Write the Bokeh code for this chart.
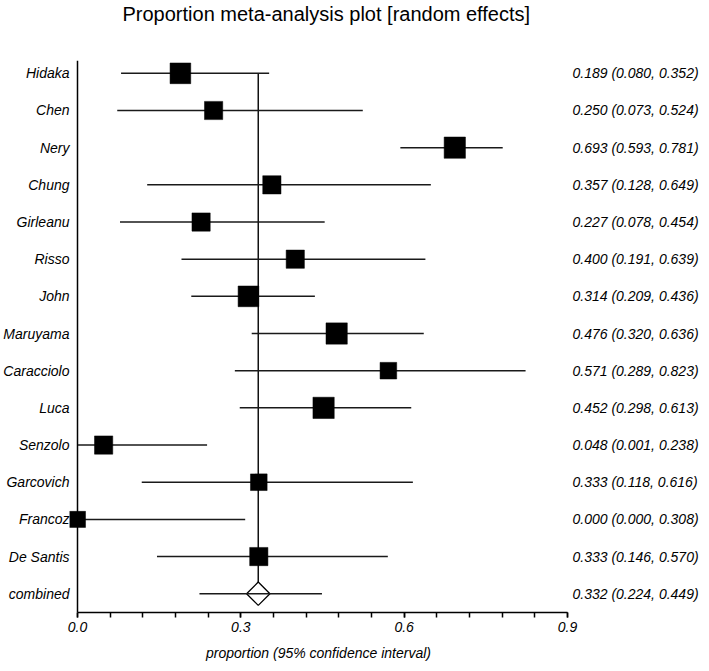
import numpy as np
from bokeh.plotting import figure
from bokeh.models import Range1d, FixedTicker, LinearAxis, Span, NumeralTickFormatter, ColumnDataSource, Title
from bokeh.embed import file_html
from bokeh.resources import INLINE

# ---------------- data ----------------
studies = ["Hidaka", "Chen", "Nery", "Chung", "Girleanu", "Risso", "John", "Maruyama",
           "Caracciolo", "Luca", "Senzolo", "Garcovich", "Francoz", "De Santis"]
proportion = [0.189, 0.250, 0.693, 0.357, 0.227, 0.400, 0.314, 0.476, 0.571, 0.452, 0.048, 0.333, 0.000, 0.333]
ci_low = [0.080, 0.073, 0.593, 0.128, 0.078, 0.191, 0.209, 0.320, 0.289, 0.298, 0.001, 0.118, 0.000, 0.146]
ci_high = [0.352, 0.524, 0.781, 0.649, 0.454, 0.639, 0.436, 0.636, 0.823, 0.613, 0.238, 0.616, 0.308, 0.570]
weight_pct = [8.5, 6.6, 9.0, 6.6, 6.6, 6.6, 8.5, 9.0, 5.5, 9.0, 6.6, 5.5, 5.1, 6.6]

pooled_label = "combined"
pooled = 0.332
pooled_low = 0.224
pooled_high = 0.449

x_ticks = [0.0, 0.3, 0.6, 0.9]
title_text = "Proportion meta-analysis plot [random effects]"
x_label = "proportion (95% confidence interval)"

# ---------------- layout ----------------
W, H = 701, 663
FL, FR, FT, FB = 69, 567, 58, 613      # frame edges in figure px
left_pad_px = 8
px_per_unit = (FR - FL - left_pad_px) / x_ticks[-1]
x_start = -left_pad_px / px_per_unit

n = len(studies)
y_lo, y_hi = -0.505, n + 0.345

rows = [n - i for i in range(n)]       # 14 .. 1
pooled_row = 0
all_rows = rows + [pooled_row]
all_names = studies + [pooled_label]
all_text = [f"{p:.3f} ({l:.3f}, {h:.3f})" for p, l, h in
            zip(proportion + [pooled], ci_low + [pooled_low], ci_high + [pooled_high])]

FONT = "Liberation Sans"

p = figure(width=W, height=H, output_backend="svg", toolbar_location=None, title=None,
           x_range=Range1d(x_start, x_ticks[-1]), y_range=Range1d(y_lo, y_hi),
           min_border_left=FL, min_border_right=W - FR, min_border_top=FT, min_border_bottom=H - FB)
p.outline_line_color = None
p.xgrid.visible = False
p.ygrid.visible = False

# invisible spacer (closest to the frame), then the real title on top of it
p.add_layout(Title(text=".", text_font=FONT, text_font_size="14px", text_color="white",
                   standoff=24), "above")
p.add_layout(Title(text=title_text, text_font=FONT, text_font_size="20px", text_font_style="normal",
                   text_color="black", align="left", offset=53, standoff=0), "above")

# x axis
xa = p.xaxis[0]
xa.ticker = FixedTicker(ticks=x_ticks, minor_ticks=[round(0.06 * k, 2) for k in range(16)])
xa.bounds = (x_ticks[0], x_ticks[-1])
xa.formatter = NumeralTickFormatter(format="0.0")
xa.axis_line_width = 1.5
xa.axis_line_color = "black"
xa.major_tick_line_width = 1.5
xa.minor_tick_line_width = 1.5
xa.major_tick_line_color = "black"
xa.minor_tick_line_color = "black"
xa.major_tick_out = 5
xa.major_tick_in = 0
xa.minor_tick_out = 5
xa.minor_tick_in = 0
xa.major_label_text_font = FONT
xa.major_label_text_font_size = "14px"
xa.major_label_text_font_style = "italic"
xa.major_label_text_color = "black"
xa.major_label_standoff = 4
xa.axis_label = x_label
xa.axis_label_text_font = FONT
xa.axis_label_text_font_size = "14px"
xa.axis_label_text_font_style = "italic"
xa.axis_label_text_color = "black"
xa.axis_label_standoff = 10

# left axis: study names
ya = p.yaxis[0]
ya.ticker = FixedTicker(ticks=all_rows)
ya.major_label_overrides = {r: s for r, s in zip(all_rows, all_names)}
ya.axis_line_color = None
ya.major_tick_line_color = None
ya.minor_tick_line_color = None
ya.major_tick_out = 0
ya.major_tick_in = 0
ya.major_label_standoff = 0
ya.major_label_text_font = FONT
ya.major_label_text_font_size = "14px"
ya.major_label_text_font_style = "italic"
ya.major_label_text_color = "black"

# right axis: estimates with CI
ra = LinearAxis(ticker=FixedTicker(ticks=all_rows),
                major_label_overrides={r: t for r, t in zip(all_rows, all_text)})
ra.axis_line_color = None
ra.major_tick_line_color = None
ra.minor_tick_line_color = None
ra.major_tick_out = 0
ra.major_tick_in = 0
ra.major_label_standoff = 5
ra.major_label_text_font = FONT
ra.major_label_text_font_size = "14px"
ra.major_label_text_font_style = "italic"
ra.major_label_text_color = "black"
p.add_layout(ra, "right")

# vertical line at x = 0
p.add_layout(Span(location=0, dimension="height", line_color="black", line_width=1.5))

# pooled vertical reference line
p.segment(x0=[pooled], y0=[rows[0]], x1=[pooled], y1=[pooled_row], line_color="#111111", line_width=1.5)

src = ColumnDataSource(dict(y=rows, p=proportion, lo=ci_low, hi=ci_high,
                            size=[7.1 * np.sqrt(w) for w in weight_pct]))
p.segment(x0="lo", y0="y", x1="hi", y1="y", source=src, line_color="#1a1a1a", line_width=1.5)
p.scatter(x="p", y="y", size="size", marker="square", source=src,
          fill_color="black", line_color="black", line_width=0.5)

# pooled diamond
p.scatter(x=[pooled], y=[pooled_row], marker="square", angle=np.pi / 4, size=16.5,
          fill_color="white", line_color="black", line_width=1.3)
p.segment(x0=[pooled_low], y0=[pooled_row], x1=[pooled_high], y1=[pooled_row],
          line_color="#1a1a1a", line_width=1.5)

open("out.html", "w").write(file_html(p, INLINE))
